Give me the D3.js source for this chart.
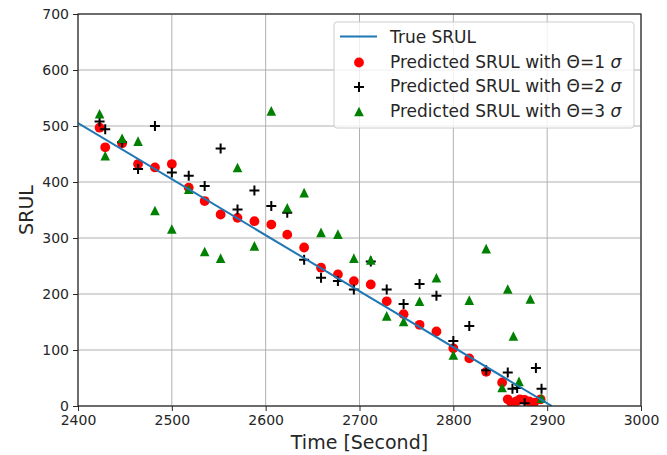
<!DOCTYPE html>
<html><head><meta charset="utf-8">
<script src="https://cdn.jsdelivr.net/npm/d3@7"></script>
<style>body{margin:0;background:#fff}svg{display:block;font-family:"DejaVu Sans",sans-serif}</style>
</head><body><svg id="c" width="667" height="455"></svg>
<script>
const xTicks = [2400,2500,2600,2700,2800,2900,3000];
const yTicks = [0,100,200,300,400,500,600,700];
const trueT = [2400, 2905];
const trueV = [505, 0];
const s1T = [2423,2429,2447,2464,2482,2500,2518,2535,2552,2570,2588,2606,2623,2641,2659,2677,2694,2712,2729,2747,2764,2782,2800,2817,2835,2852,2858,2862,2867,2871,2876,2881,2886,2893];
const s1V = [497,462,469,432,426,432,390,366,342,336,330,324,306,283,247,235,223,217,187,164,145,133,103,85,61,42,12,5,8,12,11,8,6,12];
const s2T = [2423,2429,2447,2464,2482,2500,2518,2535,2552,2570,2588,2606,2623,2641,2659,2677,2694,2712,2729,2747,2764,2782,2800,2817,2835,2858,2863,2868,2876,2888,2894];
const s2V = [508,494,471,423,500,417,411,393,460,351,385,357,345,261,229,223,208,258,208,182,218,197,116,143,64,60,31,32,5,68,31];
const s3T = [2423,2429,2447,2464,2482,2500,2518,2535,2552,2570,2588,2606,2623,2641,2659,2677,2694,2712,2729,2747,2764,2782,2800,2817,2835,2852,2858,2864,2870,2882,2894];
const s3V = [522,447,478,473,349,316,387,276,264,426,286,527,354,381,310,307,264,261,161,151,187,229,91,189,281,33,209,125,44,191,14];
const legendLabels = ["True SRUL","Predicted SRUL with Θ=1 ","Predicted SRUL with Θ=2 ","Predicted SRUL with Θ=3 "];

const svg = d3.select("#c");
const L=78,R=641,T=14,B=406;
const x = d3.scaleLinear([2400,3000],[L,R]);
const y = d3.scaleLinear([0,700],[B,T]);

// grid
const g = svg.append("g");
g.selectAll(".gx").data(xTicks).join("line").attr("x1",d=>x(d)).attr("x2",d=>x(d)).attr("y1",T).attr("y2",B).attr("stroke","#b0b0b0").attr("stroke-width",1);
g.selectAll(".gy").data(yTicks).join("line").attr("y1",d=>y(d)).attr("y2",d=>y(d)).attr("x1",L).attr("x2",R).attr("stroke","#b0b0b0").attr("stroke-width",1);

svg.append("defs").append("clipPath").attr("id","clip").append("rect").attr("x",L).attr("y",T).attr("width",R-L).attr("height",B-T);
const p = svg.append("g").attr("clip-path","url(#clip)");

const tri = "M0,-4.8L4.8,4.8L-4.8,4.8Z";
const plus = "M-5,0H5M0,-5V5";

p.selectAll(".r").data(s1T).join("circle").attr("cx",d=>x(d)).attr("cy",(d,i)=>y(s1V[i])).attr("r",4.9).attr("fill","red");
p.selectAll(".k").data(s2T).join("path").attr("d",plus).attr("transform",(d,i)=>`translate(${x(d)},${y(s2V[i])})`).attr("stroke","black").attr("stroke-width",2).attr("fill","none");
p.selectAll(".t").data(s3T).join("path").attr("d",tri).attr("transform",(d,i)=>`translate(${x(d)},${y(s3V[i])})`).attr("fill","green");
p.append("path").datum(trueT).attr("d",d3.line().x(d=>x(d)).y((d,i)=>y(trueV[i]))).attr("stroke","#1f77b4").attr("stroke-width",2).attr("fill","none");

// axes
const ax = svg.append("g").attr("transform",`translate(0,${B})`).call(d3.axisBottom(x).tickValues(xTicks).tickFormat(d3.format("d")).tickSizeOuter(0).tickSize(5).tickPadding(4));
const ay = svg.append("g").attr("transform",`translate(${L},0)`).call(d3.axisLeft(y).tickValues(yTicks).tickFormat(d3.format("d")).tickSizeOuter(0).tickSize(5).tickPadding(4));
[ax,ay].forEach(a=>{a.selectAll("text").attr("font-size",14).attr("font-family","DejaVu Sans").attr("fill","#262626");a.selectAll("line").attr("stroke","#262626");a.select(".domain").remove();});
svg.append("rect").attr("x",L).attr("y",T).attr("width",R-L).attr("height",B-T).attr("fill","none").attr("stroke","#262626").attr("stroke-width",1.2);

svg.append("text").attr("x",(L+R)/2).attr("y",449).attr("text-anchor","middle").attr("font-size",19).attr("fill","#262626").text("Time [Second]");
svg.append("text").attr("transform",`translate(33,${(T+B)/2}) rotate(-90)`).attr("text-anchor","middle").attr("font-size",19).attr("fill","#262626").text("SRUL");

// legend
const lg = svg.append("g");
lg.append("rect").attr("x",334).attr("y",22).attr("width",300).attr("height",106).attr("rx",3).attr("fill","white").attr("fill-opacity",0.8).attr("stroke","#cccccc");
const rowY = [36.5,61.5,86,110.5];
legendLabels.forEach((lab,i)=>{
  const t = lg.append("text").attr("x",390).attr("y",rowY[i]).attr("dy","0.36em").attr("font-size",17).attr("fill","#262626").text(lab);
  if(i>0) t.append("tspan").attr("font-style","italic").text("σ");
});
lg.append("line").attr("x1",340).attr("x2",377).attr("y1",rowY[0]).attr("y2",rowY[0]).attr("stroke","#1f77b4").attr("stroke-width",2);
lg.append("circle").attr("cx",359).attr("cy",rowY[1]+1).attr("r",4.9).attr("fill","red");
lg.append("path").attr("d",plus).attr("transform",`translate(359,${rowY[2]+1})`).attr("stroke","black").attr("stroke-width",2);
lg.append("path").attr("d",tri).attr("transform",`translate(359,${rowY[3]+1})`).attr("fill","green");
</script></body></html>
